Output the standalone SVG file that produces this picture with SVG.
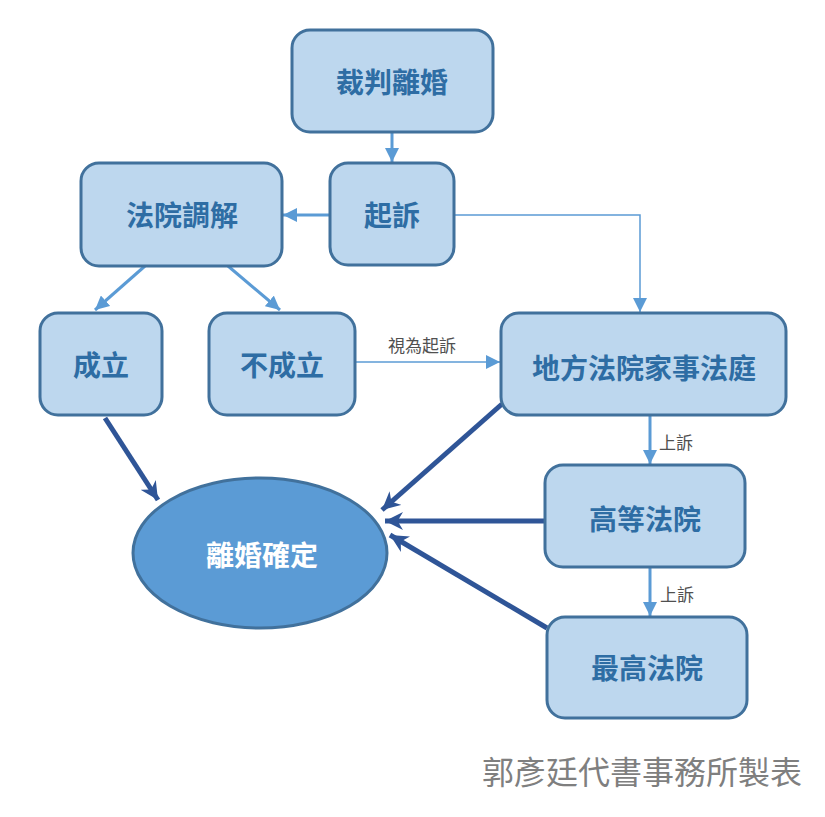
<svg xmlns="http://www.w3.org/2000/svg" width="825" height="817" viewBox="0 0 825 817">
<style>
.box{fill:#BDD7EE;stroke:#41719C;stroke-width:3}
.t{font-family:"Noto Sans CJK TC","Noto Sans CJK SC",sans-serif;font-weight:bold;font-size:28px;fill:#2E6DA4;text-anchor:middle;dominant-baseline:central}
.lbl{font-family:"Noto Sans CJK TC","Noto Sans CJK SC",sans-serif;font-size:17px;fill:#505050}
.thin{stroke:#5B9BD5;stroke-width:3;fill:none}
.hair{stroke:#5B9BD5;stroke-width:1.5;fill:none}
.thick{stroke:#2F5597;stroke-width:5;fill:none}
</style>
<defs>
<marker id="at" viewBox="0 0 10 10" refX="10" refY="5" markerWidth="14" markerHeight="14" orient="auto" markerUnits="userSpaceOnUse">
<path d="M0,0 L10,5 L0,10 z" fill="#5B9BD5"/>
</marker>
<marker id="ak" viewBox="0 0 10 10" refX="10" refY="5" markerWidth="18" markerHeight="18" orient="auto" markerUnits="userSpaceOnUse">
<path d="M0,0 L10,5 L0,10 L3,5 z" fill="#2F5597"/>
</marker>
</defs>
<rect width="825" height="817" fill="#fff"/>
<g id="connectors">
<line class="thin" x1="392" y1="132" x2="392" y2="162" marker-end="url(#at)"/>
<line class="thin" x1="330" y1="215" x2="283" y2="215" marker-end="url(#at)"/>
<polyline class="hair" points="454,215 640,215 640,312" marker-end="url(#at)"/>
<line class="thin" x1="145" y1="266" x2="95" y2="310" marker-end="url(#at)"/>
<line class="thin" x1="228" y1="266" x2="280" y2="310" marker-end="url(#at)"/>
<line class="hair" x1="355" y1="362" x2="500" y2="362" marker-end="url(#at)"/>
<text class="lbl" x="388" y="352">視為起訴</text>
<line class="thin" x1="650" y1="415" x2="650" y2="464" marker-end="url(#at)"/>
<text class="lbl" x="659" y="449">上訴</text>
<line class="thin" x1="650" y1="567" x2="650" y2="616" marker-end="url(#at)"/>
<text class="lbl" x="660" y="601">上訴</text>
<line class="thick" x1="105" y1="418" x2="158" y2="500" marker-end="url(#ak)"/>
<line class="thick" x1="502" y1="404" x2="382" y2="510" marker-end="url(#ak)"/>
<line class="thick" x1="545" y1="521" x2="385" y2="521" marker-end="url(#ak)"/>
<line class="thick" x1="547" y1="628" x2="390" y2="535" marker-end="url(#ak)"/>
</g>
<g id="n1"><rect class="box" x="292" y="30" width="201" height="102" rx="18"/><text class="t" x="392" y="81">裁判離婚</text></g>
<g id="n2"><rect class="box" x="330" y="163" width="124" height="102" rx="18"/><text class="t" x="392" y="214">起訴</text></g>
<g id="n3"><rect class="box" x="81" y="163" width="201" height="103" rx="18"/><text class="t" x="182" y="214">法院調解</text></g>
<g id="n4"><rect class="box" x="40" y="313" width="122" height="102" rx="18"/><text class="t" x="101" y="364">成立</text></g>
<g id="n5"><rect class="box" x="209" y="313" width="146" height="102" rx="18"/><text class="t" x="282" y="364">不成立</text></g>
<g id="n6"><rect class="box" x="501" y="313" width="285" height="102" rx="18"/><text class="t" x="644" y="367">地方法院家事法庭</text></g>
<g id="n7"><rect class="box" x="545" y="465" width="200" height="102" rx="18"/><text class="t" x="645" y="518">高等法院</text></g>
<g id="n8"><rect class="box" x="547" y="617" width="200" height="101" rx="18"/><text class="t" x="647" y="667">最高法院</text></g>
<g id="n9"><ellipse cx="260" cy="553" rx="127" ry="75" fill="#5B9BD5" stroke="#41719C" stroke-width="3"/><text class="t" x="262" y="554" style="fill:#fff">離婚確定</text></g>
<text x="642" y="784" font-family="Noto Sans CJK TC, Noto Sans CJK SC, sans-serif" font-size="32" fill="#7F7F7F" text-anchor="middle">郭彥廷代書事務所製表</text>
</svg>
